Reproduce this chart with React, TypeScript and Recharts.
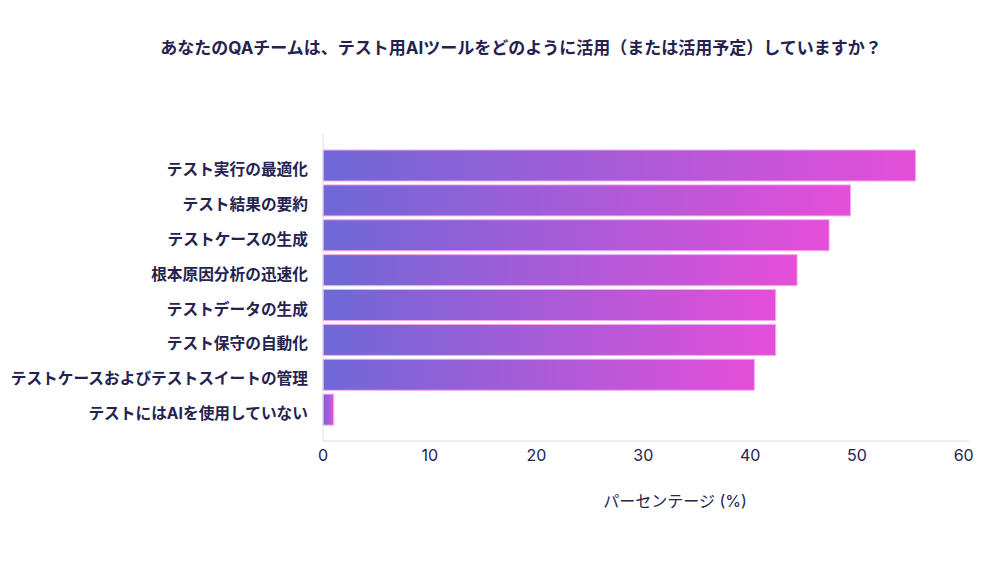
import { BarChart, Bar, XAxis, YAxis } from 'recharts';

const categories = [
  'テスト実行の最適化',
  'テスト結果の要約',
  'テストケースの生成',
  '根本原因分析の迅速化',
  'テストデータの生成',
  'テスト保守の自動化',
  'テストケースおよびテストスイートの管理',
  'テストにはAIを使用していない',
];
const percentages = [55.5, 49.4, 47.4, 44.4, 42.4, 42.4, 40.4, 1.0];
const xTicks = [0, 10, 20, 30, 40, 50, 60];

const title = 'あなたのQAチームは、テスト用AIツールをどのように活用（または活用予定）していますか？';
const xLabel = 'パーセンテージ (%)';

const data = categories.map((c, i) => ({ name: c, value: percentages[i] }));

const font = "Inter, 'Noto Sans CJK JP', sans-serif";
const ink = '#26224f';

export default function App() {
  return (
    <div style={{ position: 'relative', width: 999, height: 561, background: '#fff', fontFamily: font }}>
      <style>{'body{margin:0}'}</style>
      <div style={{
        position: 'absolute', left: 0, width: 1042, top: 37, textAlign: 'center',
        fontSize: 17, fontWeight: 700, color: ink, lineHeight: '22px',
      }}>
        {title}
      </div>
      <BarChart
        width={999}
        height={561}
        data={data}
        layout="vertical"
        barCategoryGap={2}
        margin={{ top: 134, right: 30, bottom: 90, left: 0 }}
      >
        <defs>
          <linearGradient id="barGrad" x1="0" y1="0" x2="1" y2="0">
            <stop offset="0%" stopColor="#6e68d6" />
            <stop offset="100%" stopColor="#e54ed9" />
          </linearGradient>
        </defs>
        <XAxis
          type="number"
          domain={[0, 60.5]}
          ticks={xTicks}
          height={30}
          axisLine={{ stroke: '#dedede' }}
          tickLine={false}
          tickSize={0}
          tickMargin={9}
          tick={{ fill: ink, fontSize: 16, fontFamily: font }}
        />
        <YAxis
          type="category"
          dataKey="name"
          width={323}
          padding={{ top: 14, bottom: 14 }}
          axisLine={{ stroke: '#dedede' }}
          tickLine={false}
          tickSize={0}
          tickMargin={15}
          tick={{ fill: ink, fontSize: 15.7, fontWeight: 700, fontFamily: font, dy: 4 }}
        />
        <Bar
          dataKey="value"
          fill="url(#barGrad)"
          stroke="#f3a9f0"
          strokeWidth={1}
          isAnimationActive={false}
        />
      </BarChart>
      <div style={{
        position: 'absolute', left: 575, width: 200, top: 490, textAlign: 'center',
        fontSize: 16, color: ink, lineHeight: '22px',
      }}>
        {xLabel}
      </div>
    </div>
  );
}
